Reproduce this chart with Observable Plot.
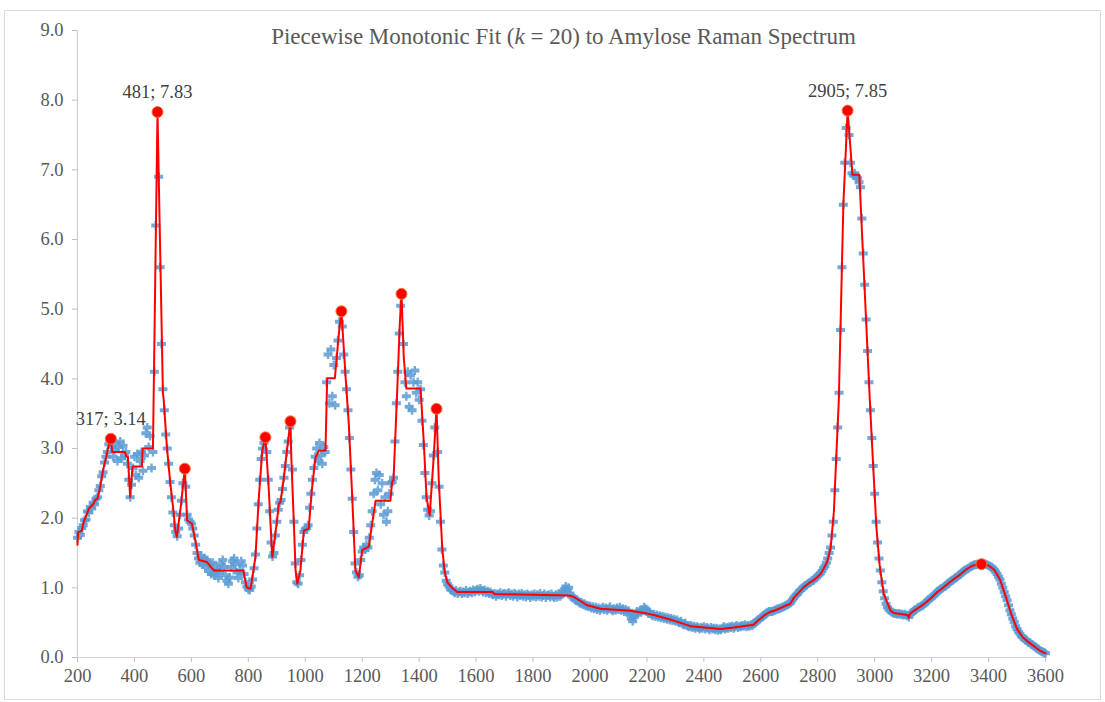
<!DOCTYPE html>
<html>
<head>
<meta charset="utf-8">
<script src="https://cdn.jsdelivr.net/npm/d3@7"></script>
<script src="https://cdn.jsdelivr.net/npm/@observablehq/plot@0.6"></script>
<style>
  body { margin: 0; background: #fff; }
  #wrap { position: relative; width: 1105px; height: 702px; overflow: hidden; }
  #frame { position: absolute; left: 4px; top: 10px; width: 1097px; height: 690px; border: 1px solid #d9d9d9; box-sizing: border-box; }
  #chart { position: absolute; left: 0; top: 0; }
  #title { position: absolute; left: 0; width: 1127px; top: 24px; text-align: center;
           font-family: "Liberation Serif", "Times New Roman", serif; font-size: 23px; color: #595959; }
</style>
</head>
<body>
<div id="wrap">
  <div id="frame"></div>
  <div id="chart"></div>
  <div id="title">Piecewise Monotonic Fit (<i>k</i> = 20) to Amylose Raman Spectrum</div>
</div>
<script>
// Raman shift grid (cm^-1): 200..3600, sampled every 5
const shiftStart = 200, shiftStep = 5;
const intensity = [
  1.72,1.80,1.76,1.86,1.90,1.97,1.98,2.10,2.08,2.16,2.14,2.22,2.20,2.28,2.30,2.40,2.46,2.60,2.66,2.80,
  2.88,2.95,3.06,3.12,3.02,2.88,2.98,3.08,2.82,3.02,3.10,2.86,3.04,2.90,2.95,2.78,2.55,2.30,2.48,2.72,
  2.88,2.62,2.92,2.58,2.82,2.95,2.68,2.90,3.22,3.30,3.02,3.18,2.72,2.95,4.10,6.20,7.83,6.90,5.60,4.50,
  3.85,3.55,3.20,3.00,2.78,2.52,2.30,2.08,1.90,1.80,1.74,1.85,2.05,2.25,2.50,2.70,2.45,2.05,1.98,1.95,
  1.92,1.85,1.75,1.62,1.50,1.42,1.36,1.46,1.34,1.42,1.30,1.40,1.24,1.34,1.20,1.36,1.18,1.30,1.25,1.14,
  1.22,1.34,1.40,1.30,1.18,1.10,1.06,1.15,1.30,1.38,1.42,1.34,1.22,1.14,1.24,1.38,1.32,1.20,1.08,1.02,
  0.98,0.97,1.02,1.12,1.28,1.48,1.85,2.20,2.55,2.85,3.00,3.08,3.16,2.95,2.55,2.10,1.65,1.45,1.50,1.75,
  1.95,2.12,2.22,2.26,2.42,2.58,2.75,2.95,3.10,3.30,3.38,2.70,1.95,1.35,1.08,1.06,1.18,1.40,1.62,1.80,
  1.84,1.86,1.90,2.15,2.35,2.55,2.72,2.88,3.00,2.82,3.08,2.90,2.78,3.02,2.95,3.95,4.35,3.65,4.42,3.75,
  4.20,3.62,4.30,4.55,4.82,4.97,4.75,4.35,4.10,3.85,3.55,3.15,2.70,2.28,1.80,1.35,1.22,1.16,1.18,1.40,
  1.52,1.58,1.55,1.62,1.58,1.72,1.90,2.10,2.35,2.55,2.65,2.40,2.62,2.20,2.50,2.05,2.30,1.95,2.10,2.35,
  2.50,2.52,2.58,3.10,3.65,4.10,4.65,5.05,5.20,4.50,3.95,3.75,4.10,3.60,4.05,3.55,3.95,4.12,3.80,3.95,
  3.70,3.85,3.40,3.05,2.65,2.30,2.12,2.04,2.10,2.50,2.90,3.30,3.56,2.95,2.45,1.95,1.55,1.32,1.22,1.10,
  1.05,1.02,0.98,0.97,0.95,0.93,0.96,0.92,0.94,0.95,0.92,0.94,0.93,0.96,0.92,0.94,0.95,0.93,0.97,0.94,
  0.96,0.98,0.95,0.99,0.96,0.94,0.97,0.93,0.95,0.92,0.94,0.91,0.90,0.92,0.88,0.91,0.90,0.93,0.89,0.91,
  0.92,0.88,0.91,0.93,0.89,0.91,0.88,0.92,0.90,0.87,0.91,0.89,0.92,0.88,0.90,0.87,0.91,0.89,0.86,0.90,
  0.88,0.91,0.87,0.90,0.88,0.92,0.87,0.89,0.91,0.86,0.89,0.90,0.87,0.91,0.88,0.86,0.90,0.87,0.92,0.88,
  0.90,0.94,0.98,1.02,0.96,1.00,0.92,0.88,0.86,0.84,0.82,0.83,0.80,0.78,0.79,0.76,0.77,0.74,0.75,0.73,
  0.74,0.71,0.73,0.70,0.72,0.69,0.71,0.68,0.70,0.72,0.69,0.71,0.68,0.70,0.73,0.69,0.67,0.70,0.68,0.71,
  0.69,0.72,0.68,0.70,0.66,0.69,0.65,0.67,0.62,0.56,0.52,0.58,0.62,0.66,0.64,0.67,0.65,0.68,0.72,0.70,
  0.66,0.63,0.65,0.62,0.60,0.62,0.59,0.61,0.58,0.60,0.57,0.59,0.56,0.58,0.55,0.57,0.54,0.56,0.53,0.55,
  0.52,0.54,0.51,0.50,0.52,0.48,0.47,0.49,0.46,0.45,0.44,0.46,0.43,0.45,0.42,0.44,0.43,0.41,0.43,0.42,
  0.44,0.41,0.43,0.42,0.40,0.43,0.41,0.42,0.40,0.42,0.39,0.41,0.40,0.42,0.44,0.41,0.43,0.42,0.44,0.43,
  0.45,0.42,0.44,0.46,0.43,0.45,0.44,0.46,0.45,0.47,0.44,0.46,0.45,0.47,0.46,0.48,0.50,0.52,0.54,0.55,
  0.57,0.58,0.60,0.62,0.64,0.65,0.66,0.66,0.66,0.67,0.68,0.69,0.70,0.70,0.71,0.72,0.73,0.74,0.75,0.76,
  0.77,0.79,0.82,0.85,0.88,0.90,0.92,0.95,0.97,0.99,1.01,1.03,1.04,1.06,1.07,1.08,1.10,1.11,1.13,1.15,
  1.17,1.19,1.21,1.24,1.28,1.31,1.36,1.42,1.50,1.58,1.75,1.95,2.40,2.85,3.30,3.80,4.70,5.60,6.50,7.10,
  7.60,7.85,7.50,7.10,6.95,6.92,6.95,6.90,6.88,6.82,6.75,6.30,5.80,5.35,4.85,4.40,3.95,3.55,3.15,2.75,
  2.35,1.95,1.65,1.42,1.25,1.08,0.95,0.85,0.77,0.72,0.69,0.67,0.65,0.64,0.63,0.63,0.62,0.63,0.62,0.62,
  0.61,0.62,0.61,0.60,0.58,0.62,0.64,0.66,0.68,0.69,0.71,0.72,0.73,0.74,0.75,0.77,0.79,0.81,0.83,0.85,
  0.86,0.88,0.90,0.92,0.94,0.96,0.98,0.99,1.00,1.02,1.03,1.05,1.07,1.09,1.10,1.11,1.13,1.15,1.16,1.18,
  1.19,1.21,1.23,1.25,1.26,1.27,1.28,1.30,1.31,1.32,1.33,1.33,1.34,1.34,1.33,1.34,1.34,1.35,1.34,1.33,
  1.32,1.31,1.30,1.28,1.26,1.23,1.20,1.16,1.12,1.06,1.00,0.94,0.88,0.82,0.75,0.68,0.62,0.56,0.51,0.45,
  0.41,0.37,0.34,0.31,0.29,0.27,0.25,0.24,0.22,0.21,0.19,0.18,0.16,0.15,0.13,0.12,0.10,0.09,0.08,0.07,
  0.06
];

// Piecewise monotonic fit (k = 20): vertices of the red line
const fitX = [200,202,215,222,235,240,255,262,270,280,285,293,300,308,317,322,367,372,377,385,393,426,429,465,481,
  500,503,514,526,538,543,549,564,577,585,602,614,626,655,672,680,782,794,803,808,825,837,849,860,872,884,901,907,913,
  925,937,948,951,960,966,972,983,995,1012,1024,1036,1048,1071,1077,1104,1118,1127,1141,1153,1165,1176,1188,1200,1223,
  1235,1247,1299,1305,1310,1323,1332,1338,1346,1355,1405,1416,1426,1437,1451,1461,1469,1481,1489,1499,1516,1534,1657,
  1665,1926,1943,1990,2037,2142,2201,2224,2294,2353,2458,2505,2575,2590,2611,2630,2646,2669,2690,2704,2715,2728,2740,
  2751,2770,2786,2800,2810,2820,2833,2845,
  2857,2866,2874,2890,2905,2922,2946,2983,2995,3006,3018,3032,3056,3067,3115,3120,3123,3137,3160,3180,3200,3220,3240,
  3260,3280,3300,3320,3340,3360,3375,3400,3420,3440,3460,3480,3500,3520,3540,3560,3580,3600];
const fitY = [1.62,1.80,1.82,1.95,2.08,2.14,2.20,2.26,2.28,2.45,2.58,2.75,2.86,3.02,3.14,2.95,2.95,2.88,2.88,2.30,2.74,2.74,3.00,3.00,7.83,
  3.80,3.69,3.02,2.50,2.07,1.83,1.73,2.21,2.71,1.97,1.92,1.68,1.40,1.37,1.28,1.25,1.25,1.01,0.99,0.99,1.44,2.30,2.97,3.16,2.40,1.44,1.97,2.21,2.23,
  2.59,3.02,3.39,2.87,1.92,1.25,1.06,1.25,1.82,1.85,2.44,2.87,2.97,2.97,4.01,4.01,4.65,4.97,4.07,3.35,2.30,1.25,1.15,1.54,1.59,
  1.92,2.25,2.25,2.52,2.55,3.83,4.79,5.22,4.31,3.86,3.86,3.11,2.30,2.04,2.87,3.57,2.54,1.58,1.25,1.08,1.00,0.94,0.94,
  0.91,0.89,0.87,0.75,0.70,0.67,0.63,0.61,0.53,0.45,0.41,0.43,0.47,0.53,0.60,0.65,0.67,0.71,0.75,0.77,0.85,0.91,0.96,
  1.01,1.07,1.11,1.16,1.20,1.27,1.37,1.56,
  2.11,2.97,3.69,6.50,7.85,6.93,6.93,3.69,2.73,1.87,1.30,0.91,0.67,0.64,0.61,0.57,0.62,0.67,0.73,0.79,0.86,0.94,1.00,
  1.07,1.13,1.19,1.26,1.31,1.34,1.34,1.32,1.26,1.12,0.88,0.62,0.41,0.29,0.22,0.16,0.10,0.06];

// Peaks of the fit (local maxima) and the labelled ones
const peakX = [317, 481, 577, 860, 948, 1127, 1338, 1461, 2905, 3375];
const peakY = [3.14, 7.83, 2.71, 3.16, 3.39, 4.97, 5.22, 3.57, 7.85, 1.34];
const labelledPeaks = [317, 481, 2905];

const xTicks = [200,400,600,800,1000,1200,1400,1600,1800,2000,2200,2400,2600,2800,3000,3200,3400,3600];
const yTicks = [0,1,2,3,4,5,6,7,8,9];

const spectrum = intensity.map((v, i) => ({x: shiftStart + i * shiftStep, y: v}));
const fit = fitX.map((x, i) => ({x, y: fitY[i]}));
const peaks = peakX.map((x, i) => ({x, y: peakY[i]}));
const labels = peaks.filter(p => labelledPeaks.includes(p.x))
  .map(p => ({...p, text: `${p.x}; ${p.y.toFixed(2)}`}));

// Excel-like "+" marker: wide horizontal dash with a short vertical bar
const plusMarker = {
  draw(ctx) {
    ctx.rect(-4.5, -2, 9, 4);
    ctx.rect(-1.2, -4.5, 2.4, 9);
  }
};

const serif = "'Liberation Serif', 'Times New Roman', serif";

const chart = Plot.plot({
  width: 1105,
  height: 702,
  marginLeft: 77,
  marginRight: 60,
  marginTop: 30,
  marginBottom: 45,
  style: { fontFamily: serif, fontSize: "18.5px", background: "transparent", overflow: "visible" },
  x: { domain: [200, 3600] },
  y: { domain: [0, 9] },
  marks: [
    Plot.axisX({ ticks: xTicks, tickSize: 5, tickPadding: 6, tickFormat: d => String(d),
                 stroke: "#bfbfbf", fill: "#595959", label: null, fontSize: 18.5 }),
    Plot.axisY({ ticks: yTicks, tickSize: 5, tickPadding: 9, tickFormat: d3.format(".1f"),
                 stroke: "#bfbfbf", fill: "#595959", label: null, fontSize: 18.5 }),
    Plot.ruleY([0], { stroke: "#d0d0d0", strokeWidth: 1.2 }),
    Plot.ruleX([200], { stroke: "#d0d0d0", strokeWidth: 1.2 }),
    Plot.dot(spectrum, { x: "x", y: "y", symbol: plusMarker, fill: "#5B9BD5", fillOpacity: 0.85, stroke: "none" }),
    Plot.line(fit, { x: "x", y: "y", stroke: "#ff0000", strokeWidth: 2 }),
    Plot.dot(peaks, { x: "x", y: "y", r: 5.5, fill: "#ff0000", stroke: "#ed7d31", strokeWidth: 1 }),
    Plot.text(labels, { x: "x", y: "y", text: "text", dy: -20, fontSize: 18.5, fill: "#404040" })
  ]
});
document.getElementById("chart").appendChild(chart);
</script>
</body>
</html>
